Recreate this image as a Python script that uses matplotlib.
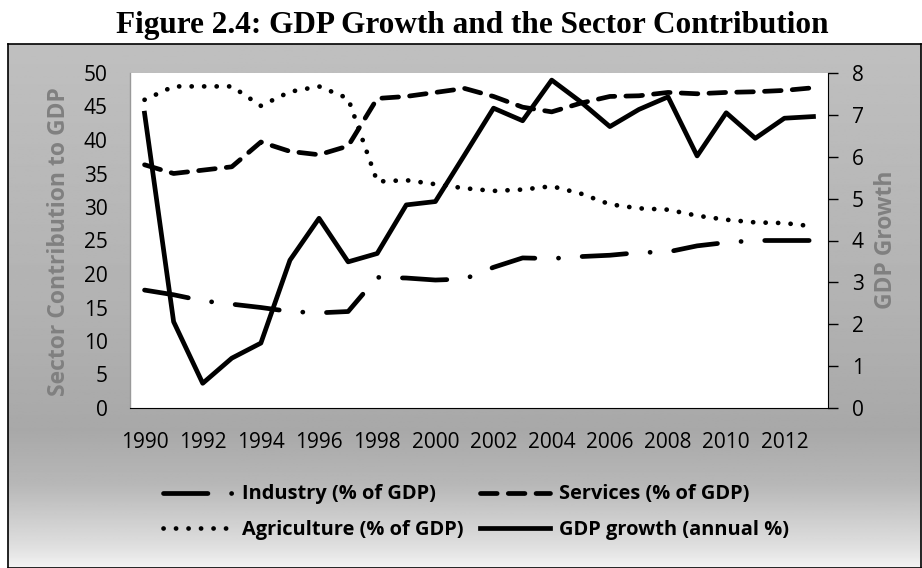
import matplotlib.pyplot as plt
import numpy as np

plt.rcParams['lines.scale_dashes'] = False

years = list(range(1990, 2014))
gdp_growth = [7.04, 2.06, 0.59, 1.19, 1.55, 3.53, 4.53, 3.49, 3.69, 4.85, 4.93, 6.04,
              7.16, 6.86, 7.83, 7.31, 6.72, 7.13, 7.43, 6.02, 7.05, 6.44, 6.92, 6.96]
services = [36.3, 35.0, 35.5, 36.0, 39.7, 38.3, 37.8, 39.1, 46.2, 46.5, 47.1, 47.7,
            46.5, 44.9, 44.2, 45.5, 46.5, 46.6, 47.1, 46.9, 47.1, 47.2, 47.4, 47.8]
agriculture = [46.0, 48.0, 48.0, 48.0, 45.1, 47.2, 48.0, 46.2, 33.8, 34.0, 33.4, 32.8,
               32.4, 32.6, 33.1, 32.0, 30.4, 29.8, 29.6, 28.7, 28.1, 27.7, 27.6, 27.1]
industry = [17.6, 16.9, 16.0, 15.5, 15.0, 14.4, 14.2, 14.4, 19.5, 19.4, 19.1, 19.25,
            21.0, 22.4, 22.3, 22.6, 22.8, 23.2, 23.3, 24.2, 24.7, 25.0, 25.0, 25.0]

W, H = 922, 568
fig = plt.figure(figsize=(W / 100, H / 100), dpi=100)

# gray gradient panel behind the chart
bg = fig.add_axes([8 / W, 0, (W - 9) / W, (H - 44) / H])
ypx = np.linspace(44, 568, 400)
shade = np.interp(ypx, [44, 300, 430, 485, 545, 568], [0.75, 0.70, 0.66, 0.72, 0.87, 0.95])
bg.imshow(np.repeat(shade[:, None], 2, axis=1), cmap='gray', vmin=0, vmax=1,
          aspect='auto', extent=[0, 1, 0, 1])
bg.set_xticks([])
bg.set_yticks([])
for s in bg.spines.values():
    s.set_color('black')
    s.set_linewidth(1.2)

fig.text(472 / W, 1 - 26 / H, 'Figure 2.4: GDP Growth and the Sector Contribution',
         ha='center', va='center', fontsize=22.5, fontweight='bold',
         family='Liberation Serif')

ax = fig.add_axes([130 / W, 1 - 408 / H, 698 / W, 335 / H])
ax.set_facecolor('white')
x = np.arange(len(years))

lw = 3.4
l_ind, = ax.plot(x, industry, color='black', lw=lw, dashes=(32, 17, 0.1, 17),
                 dash_capstyle='round', label='Industry (% of GDP)')
l_srv, = ax.plot(x, services, color='black', lw=lw, dashes=(12, 8),
                 dash_capstyle='round', label='Services (% of GDP)')
l_agr, = ax.plot(x, agriculture, color='black', lw=lw, dashes=(0.1, 8.9),
                 dash_capstyle='round', label='Agriculture (% of GDP)')

ax2 = ax.twinx()
l_gdp, = ax2.plot(x, gdp_growth, color='black', lw=lw, label='GDP growth (annual %)')

ax.set_xlim(-0.5, len(years) - 0.5)
ax.set_ylim(0, 50)
ax2.set_ylim(0, 8)
ax.set_yticks(range(0, 51, 5))
ax2.set_yticks(range(0, 9))
ax.set_xticks(x[::2])
ax.set_xticklabels([str(y) for y in years[::2]])

for lab in ax.get_xticklabels() + ax.get_yticklabels() + ax2.get_yticklabels():
    lab.set_fontfamily('Open Sans')
    lab.set_fontsize(15)

ax.tick_params(axis='y', length=0, pad=16)
ax.tick_params(axis='x', length=0, pad=17)
ax2.tick_params(axis='y', length=7, width=1, pad=10, direction='out')

for a in (ax, ax2):
    a.spines['top'].set_visible(False)
ax.spines['left'].set_color('#999999')
ax.spines['left'].set_linewidth(1)
ax.spines['right'].set_visible(False)
ax2.spines['left'].set_visible(False)
ax2.spines['bottom'].set_visible(False)
ax.spines['bottom'].set_color('black')
ax2.spines['right'].set_color('black')

fig.text(59 / W, 1 - 242 / H, 'Sector Contribution to GDP', rotation=90,
         ha='center', va='center', fontsize=16.5, fontweight='bold',
         color='#808080', family='Open Sans')
fig.text(886 / W, 1 - 240 / H, 'GDP Growth', rotation=90,
         ha='center', va='center', fontsize=16.5, fontweight='bold',
         color='#808080', family='Open Sans')

fig.legend([l_ind, l_agr, l_srv, l_gdp],
           [l.get_label() for l in (l_ind, l_agr, l_srv, l_gdp)],
           ncol=2, loc='center', bbox_to_anchor=(476 / W, 1 - 512 / H),
           frameon=False, handlelength=3.5, handletextpad=0.45,
           columnspacing=0.85, labelspacing=0.75,
           prop=dict(family='Open Sans', weight='bold', size=14.4))

fig.savefig('out.png', dpi=100)
